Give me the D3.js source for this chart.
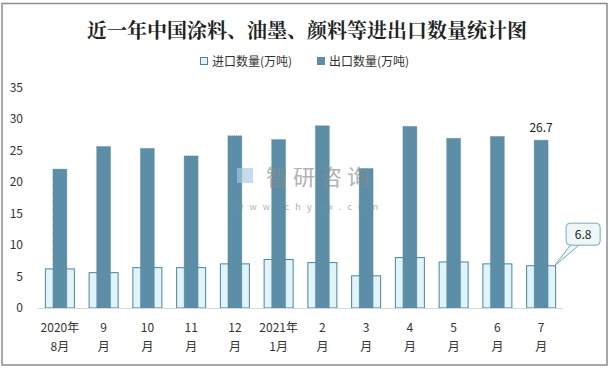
<!DOCTYPE html>
<meta charset="utf-8">
<script src="https://d3js.org/d3.v7.min.js"></script>
<style>
  body { margin: 0; background: #fff; }
  text { font-family: "Noto Sans CJK SC", "Noto Sans", sans-serif; }
</style>
<div id="chart"></div>
<script>
// data
const months = ["2020年\n8月", "9\n月", "10\n月", "11\n月", "12\n月", "2021年\n1月", "2\n月", "3\n月", "4\n月", "5\n月", "6\n月", "7\n月"];
const importVals = [6.3, 5.7, 6.5, 6.5, 7.1, 7.8, 7.3, 5.2, 8.1, 7.4, 7.1, 6.8];
const exportVals = [22.1, 25.7, 25.4, 24.2, 27.4, 26.8, 29.0, 22.2, 28.9, 27.0, 27.3, 26.7];
const yTicks = [0, 5, 10, 15, 20, 25, 30, 35];
const seriesNames = ["进口数量(万吨)", "出口数量(万吨)"];

const W = 613, H = 372;
const margin = {top: 88, right: 50, bottom: 64, left: 38},
    width = W - margin.left - margin.right,
    height = H - margin.top - margin.bottom;

const svg = d3.select("#chart").append("svg")
    .attr("width", W).attr("height", H);

// outer frame
svg.append("rect").attr("x", 2).attr("y", 3.5).attr("width", 605).attr("height", 361.5)
    .attr("fill", "#fff").attr("stroke", "#8c8c8c").attr("stroke-width", 1.5);

// title
svg.append("text").attr("x", 307).attr("y", 38).attr("text-anchor", "middle")
    .attr("font-size", 20).attr("font-weight", "bold").attr("fill", "#222")
    .style("font-family", "'Noto Serif CJK SC', 'Noto Sans CJK SC', serif")
    .text("近一年中国涂料、油墨、颜料等进出口数量统计图");

// legend
const legend = svg.append("g");
legend.append("rect").attr("x", 200.5).attr("y", 57.5).attr("width", 7).attr("height", 7)
    .attr("fill", "#e1f4fa").attr("stroke", "#4c83a0");
legend.append("text").attr("x", 212).attr("y", 66).attr("font-size", 12).attr("fill", "#333")
    .text(seriesNames[0]);
legend.append("rect").attr("x", 317).attr("y", 57).attr("width", 8).attr("height", 8)
    .attr("fill", "#5c8fa7");
legend.append("text").attr("x", 329).attr("y", 66).attr("font-size", 12).attr("fill", "#333")
    .text(seriesNames[1]);

const g = svg.append("g").attr("transform", `translate(${margin.left},${margin.top})`);

const x = d3.scaleBand().domain(months).range([0, width]).padding(0);
const y = d3.scaleLinear().domain([0, 35]).range([height, 0]);

// y axis labels
g.selectAll(".ytick").data(yTicks).join("text")
    .attr("x", -15).attr("y", d => y(d) + 4)
    .attr("text-anchor", "end").attr("font-size", 12).attr("fill", "#333")
    .text(d => d);

// import bars
const impW = 30, expW = 14;
g.selectAll(".imp").data(importVals).join("rect")
    .attr("x", (d, i) => x(months[i]) + x.bandwidth() / 2 - impW / 2 + 0.5)
    .attr("y", d => y(d) + 0.5)
    .attr("width", impW - 1)
    .attr("height", d => height - y(d) - 0.5)
    .attr("fill", "#e1f4fa").attr("stroke", "#4c83a0").attr("stroke-width", 1);

// export bars
g.selectAll(".exp").data(exportVals).join("rect")
    .attr("x", (d, i) => x(months[i]) + x.bandwidth() / 2 - expW / 2)
    .attr("y", d => y(d))
    .attr("width", expW)
    .attr("height", d => height - y(d))
    .attr("fill", "#5c8fa7").attr("stroke", "#4f8198").attr("stroke-width", 0.6)
    .attr("stroke-dasharray", "1,1");

// baseline
g.append("line").attr("x1", 0).attr("x2", width).attr("y1", height + 0.5).attr("y2", height + 0.5)
    .attr("stroke", "#d9d9d9").attr("stroke-width", 1.2);

// x labels (two lines)
g.selectAll(".xlab").data(months).join("text")
    .attr("transform", d => `translate(${x(d) + x.bandwidth() / 2},${height + 24})`)
    .attr("text-anchor", "middle").attr("font-size", 12).attr("fill", "#333")
    .each(function(d) {
        d3.select(this).selectAll("tspan").data(d.split("\n")).join("tspan")
            .attr("x", 0).attr("dy", (t, i) => i === 0 ? 0 : 19).text(t => t);
    });

// watermark (drawn over the bars, semi transparent)
const wm = svg.append("g").attr("opacity", 0.65);
wm.append("rect").attr("x", 237).attr("y", 168).attr("width", 16).attr("height", 15)
    .attr("fill", "#a9c9e3");
wm.append("text").attr("x", 266).attr("y", 185).attr("font-size", 22)
    .attr("fill", "#8a8a8a").attr("letter-spacing", 5).text("智研咨询");
wm.append("text").attr("x", 236).attr("y", 210).attr("font-size", 9)
    .attr("fill", "#8a8a8a").attr("letter-spacing", 6.2).text("www.chyxx.com");

// last export value label
const last = months.length - 1;
const lx = x(months[last]) + x.bandwidth() / 2;
g.append("text").attr("x", lx).attr("y", y(exportVals[last]) - 8)
    .attr("text-anchor", "middle").attr("font-size", 12).attr("fill", "#222")
    .text(exportVals[last]);

// callout for last import value
const bx = lx + 25, by = y(exportVals[last]) + 83;
const ax = lx + impW / 2 - 2, ay = y(importVals[last]) + 1;
const call = g.append("g");
call.append("path")
    .attr("d", `M${bx + 5},${by + 21} L${ax},${ay} L${bx + 14},${by + 21}`)
    .attr("fill", "#eef7f8").attr("stroke", "#7aa7bb").attr("stroke-width", 1);
call.append("rect").attr("x", bx).attr("y", by).attr("width", 34).attr("height", 22)
    .attr("rx", 4).attr("fill", "#eef7f8").attr("stroke", "#7aa7bb").attr("stroke-width", 1);
call.append("text").attr("x", bx + 17).attr("y", by + 15.5).attr("text-anchor", "middle")
    .attr("font-size", 12).attr("fill", "#222").text(importVals[last]);
</script>
